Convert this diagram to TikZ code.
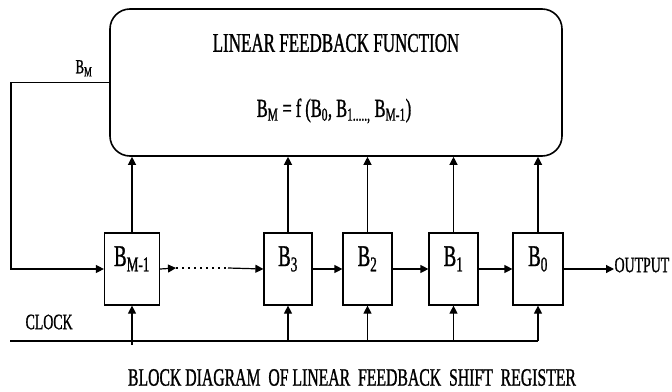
\documentclass[tikz,border=0pt]{standalone}
\usepackage{fontspec}
\setmainfont{Liberation Serif}[FakeStretch=0.63, FakeBold=1]
\usetikzlibrary{arrows.meta,positioning,calc}
\newcommand{\fs}[1]{\fontsize{#1}{#1}\selectfont}

\begin{document}
\begin{tikzpicture}[x=1pt, y=-1pt, line width=1.2pt,
    every node/.style={inner sep=0pt},
    arr/.style={-{Triangle[length=8pt,width=8pt]}},
    reg/.style={draw, minimum height=72pt, text height=20pt, text depth=26pt, font=\fs{30}},
    lbl/.style={font=\fs{22}}]
  \useasboundingbox[fill=white] (0,0) rectangle (672,391);

  % feedback function block
  \node[draw, line width=1.6pt, rounded corners=20pt, minimum width=452pt, minimum height=147pt] (func) at (336,82.5) {};
  \node[font=\fs{27}] (title) at (336,43) {LINEAR FEEDBACK FUNCTION};
  \node[font=\fs{26}] (formula) at (334,111) {B\textsubscript{M} = f (B\textsubscript{0}, B\textsubscript{1.....,} B\textsubscript{M-1})};

  % shift register stages
  \foreach \n/\x/\w/\t in {bm1/132/55/{B\textsubscript{M-1}}, b3/288/48/{B\textsubscript{3}}, b2/367.5/49/{B\textsubscript{2}}, b1/453.5/49/{B\textsubscript{1}}, b0/538/50/{B\textsubscript{0}}}
    \node[reg, minimum width=\w pt] (\n) at (\x,269) {\t};

  \node[lbl, anchor=west] (out) at (614,265) {OUTPUT};
  \node[lbl, anchor=west] (clk) at (25,322) {CLOCK};
  \node[font=\fs{20}, anchor=south] (bm) at (84,77) {B\textsubscript{M}};
  \node[font=\fs{25}] (caption) at (352,377.5) {BLOCK DIAGRAM~ OF LINEAR~ FEEDBACK~ SHIFT~ REGISTER};

  % shift path
  \coordinate (d0) at (176,268);
  \coordinate (d1) at (228,268);
  \draw[arr] (bm1.east) -- (d0);
  \draw[line width=2.4pt, dash pattern=on 2pt off 4pt] (d0) -- (d1);
  \draw[arr] (d1) -- (b3.west);
  \foreach \a/\b in {b3/b2, b2/b1, b1/b0}
    \draw[arr] (\a.east) -- (\b.west);
  \draw[arr] (b0.east) -- (out.west |- b0.east);

  % feedback loop
  \coordinate (fb) at (11,82.5);
  \draw[arr] (func.west) -- (fb) |- (bm1.west);
  \foreach \n in {bm1,b3,b2,b1,b0}
    \draw[arr] (\n.north) -- (\n.north |- func.south);

  % clock
  \coordinate (ck0) at (10,341);
  \coordinate (ck1) at (538,341);
  \draw[line width=1.5pt] (ck0) -- (ck1);
  \draw[arr] ($(bm1.south |- ck0)+(0,4)$) -- (bm1.south);
  \foreach \n in {b3,b2,b1,b0}
    \draw[arr] (\n.south |- ck0) -- (\n.south);
\end{tikzpicture}
\end{document}
